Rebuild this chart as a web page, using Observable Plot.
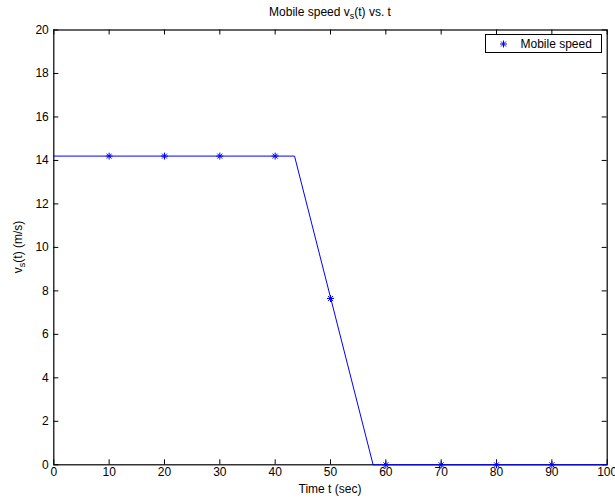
<!DOCTYPE html>
<html>
<head>
<meta charset="utf-8">
<script src="https://cdn.jsdelivr.net/npm/d3@7"></script>
<script src="https://cdn.jsdelivr.net/npm/@observablehq/plot@0.6"></script>
<style>
  html, body { margin: 0; padding: 0; background: white; }
  #chart { width: 615px; height: 500px; }
</style>
</head>
<body>
<div id="chart"></div>
<script>
// Line breakpoints (time in s, speed in m/s)
const lineT = [0, 43.5, 57.7, 100];
const lineV = [14.2, 14.2, 0, 0];
// Marker samples
const markT = [10, 20, 30, 40, 50, 60, 70, 80, 90];
const markV = [14.2, 14.2, 14.2, 14.2, 7.65, 0, 0, 0, 0];
// Ticks
const xTicks = [0, 10, 20, 30, 40, 50, 60, 70, 80, 90, 100];
const yTicks = [0, 2, 4, 6, 8, 10, 12, 14, 16, 18, 20];
const legendLabel = "Mobile speed";

const lineData = lineT.map((t, i) => ({t, v: lineV[i]}));
const markData = markT.map((t, i) => ({t, v: markV[i]}));

const W = 615, H = 500;
const mL = 53.3, mR = 8.3, mT = 29.5, mB = 35.7;
const fw = W - mL - mR, fh = H - mT - mB;
const tk = 5;
const fs = 12;

const star = {
  draw(ctx, size) {
    const r = Math.sqrt(size / Math.PI);
    const d = r * Math.SQRT1_2;
    ctx.moveTo(-r, 0); ctx.lineTo(r, 0);
    ctx.moveTo(0, -r); ctx.lineTo(0, r);
    ctx.moveTo(-d, -d); ctx.lineTo(d, d);
    ctx.moveTo(-d, d); ctx.lineTo(d, -d);
  }
};

const blue = "#0000ff";
const font = "'Liberation Sans', Arial, Helvetica, sans-serif";

const plot = Plot.plot({
  width: W, height: H,
  marginLeft: mL, marginRight: mR, marginTop: mT, marginBottom: mB,
  style: {fontFamily: font, fontSize: fs + "px", color: "black", background: "white"},
  x: {domain: [0, 100]},
  y: {domain: [0, 20]},
  marks: [
    Plot.frame({stroke: "black", strokeWidth: 1.2}),
    // inward ticks bottom/top
    Plot.tickX(xTicks, {x: d => d, insetTop: fh - tk, stroke: "black"}),
    Plot.tickX(xTicks, {x: d => d, insetBottom: fh - tk, stroke: "black"}),
    Plot.tickY(yTicks, {y: d => d, insetRight: fw - tk, stroke: "black"}),
    Plot.tickY(yTicks, {y: d => d, insetLeft: fw - tk, stroke: "black"}),
    Plot.axisX(xTicks, {tickSize: 0, tickPadding: 3, label: null, tickFormat: d => String(d), fontSize: fs}),
    Plot.axisY(yTicks, {tickSize: 0, tickPadding: 5, label: null, tickFormat: d => String(d), fontSize: fs}),
    Plot.line(lineData, {x: "t", y: "v", stroke: blue, strokeWidth: 1}),
    Plot.dot(markData, {x: "t", y: "v", symbol: star, r: 3.5, stroke: blue, strokeWidth: 1, fill: "none"}),
    // legend
    Plot.frame({fill: "white", stroke: "black", strokeWidth: 1,
      insetLeft: 485 - mL, insetRight: W - mR - 601, insetTop: 34 - mT, insetBottom: (H - mB) - 52}),
    Plot.dot([0], {frameAnchor: "top-left", dx: 503 - mL, dy: 43.5 - mT, symbol: star, r: 3.5, stroke: blue, strokeWidth: 1}),
    Plot.text([legendLabel], {frameAnchor: "top-left", dx: 520 - mL, dy: 43.5 - mT, text: d => d, textAnchor: "start", lineAnchor: "middle", fill: "black", fontSize: fs})
  ]
});

const svg = d3.select(plot);
// Title with subscript
const title = svg.append("text")
  .attr("x", mL + fw / 2).attr("y", 16)
  .attr("text-anchor", "middle")
  .attr("font-family", font).attr("font-size", fs).attr("fill", "black");
title.append("tspan").text("Mobile speed v");
title.append("tspan").attr("font-size", 9).attr("dy", 3).text("s");
title.append("tspan").attr("dy", -3).text("(t) vs. t");

// X label
svg.append("text")
  .attr("x", mL + fw / 2).attr("y", 493)
  .attr("text-anchor", "middle")
  .attr("font-family", font).attr("font-size", fs).attr("fill", "black")
  .text("Time t (sec)");

// Y label with subscript
const yl = svg.append("text")
  .attr("transform", `translate(22,${mT + fh / 2}) rotate(-90)`)
  .attr("text-anchor", "middle")
  .attr("font-family", font).attr("font-size", fs).attr("fill", "black");
yl.append("tspan").text("v");
yl.append("tspan").attr("font-size", 9).attr("dy", 3).text("s");
yl.append("tspan").attr("dy", -3).text("(t) (m/s)");

document.getElementById("chart").appendChild(plot);
</script>
</body>
</html>
